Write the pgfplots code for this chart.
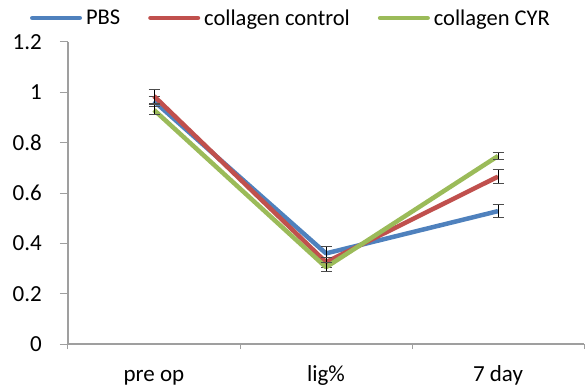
\documentclass[border=0pt]{standalone}
\usepackage{pgfplots}
\pgfplotsset{compat=1.18}
\usepackage{fontspec}
\setmainfont{Carlito}
\definecolor{cblue}{HTML}{4F81BD}
\definecolor{cred}{HTML}{C0504D}
\definecolor{cgreen}{HTML}{9BBB59}
\begin{document}
\begin{tikzpicture}
\begin{axis}[
  scale only axis,
  width=516pt, height=302pt,
  xmin=0, xmax=3, ymin=0, ymax=1.2,
  /pgf/number format/assume math mode=true,
  xtick={0.5,1.5,2.5},
  xticklabels={pre op, lig\%, 7 day},
  major x tick style={draw=none},
  minor xtick={0,1,2,3},
  minor tick length=5pt,
  ytick={0,0.2,0.4,0.6,0.8,1,1.2},
  yticklabels={0,0.2,0.4,0.6,0.8,1,1.2},
  major tick length=8pt,
  tick align=outside,
  tick style={gray!75, line width=1pt},
  axis x line*=bottom, axis y line*=left,
  axis line style={gray!75, line width=1.3pt, -},
  x tick label style={font=\fontsize{23}{26}\selectfont, inner sep=0pt, anchor=base, yshift=-29pt},
  y tick label style={font=\fontsize{23}{26}\selectfont, inner sep=0pt, anchor=east, xshift=-18pt},
  clip=false,
  legend columns=3,
  legend style={draw=none, fill=none, inner sep=0pt, outer sep=0pt,
    at={(rel axis cs:-0.0736,1.0795)}, anchor=west,
    font=\fontsize{22.5}{25}\selectfont,
    nodes={inner sep=0pt},
    /tikz/every odd column/.append style={column sep=4pt},
    /tikz/every even column/.append style={column sep=28pt}},
  legend image code/.code={\draw[#1, line width=4.5pt, line cap=round] (2.25pt,0pt) -- (49.75pt,0pt);
     \path[draw=none, fill=none] (0pt,-2.5pt) rectangle (52pt,2.5pt);},
  every axis plot/.append style={line width=4.5pt, line join=round},
  error bars/y dir=both, error bars/y explicit,
  error bars/error bar style={black, line width=0.7pt},
  error bars/error mark options={rotate=90, mark size=5.5pt, line width=1pt, gray!60!black},
]
\addplot[cblue, mark=none] coordinates {(0.5,0.965) +- (0,0.02) (1.5,0.360) +- (0,0.029) (2.5,0.528) +- (0,0.025)};
\addlegendentry{PBS}
\addplot[cred, mark=none] coordinates {(0.5,0.985) +- (0,0.028) (1.5,0.325) +- (0,0.02) (2.5,0.665) +- (0,0.028)};
\addlegendentry{collagen control}
\addplot[cgreen, mark=none] coordinates {(0.5,0.930) +- (0,0.02) (1.5,0.305) +- (0,0.018) (2.5,0.747) +- (0,0.015)};
\addlegendentry{collagen CYR}
\end{axis}
\pgfresetboundingbox
\path[use as bounding box] (-68pt,-47pt) rectangle (517pt,344pt);
\end{tikzpicture}
\end{document}
